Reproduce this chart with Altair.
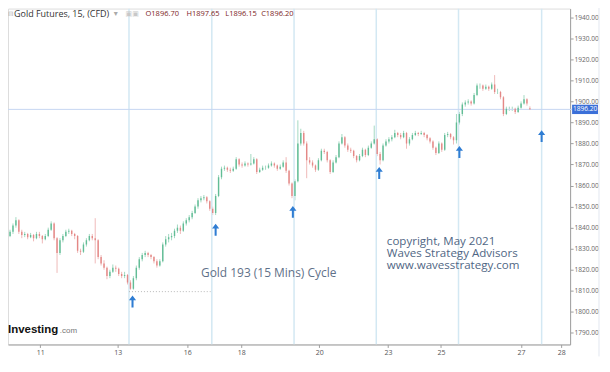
import json
import altair as alt
import pandas as pd

# ---------------- data ----------------
candle_open = [
    1835.0,1836.0,1838.0,1841.0,1843.5,1838.0,1836.5,1837.0,1835.5,1836.5,
    1835.0,1837.0,1836.0,1834.5,1836.0,1839.0,1842.0,1835.0,1828.0,1834.0,
    1836.0,1838.0,1838.5,1837.0,1836.0,1829.0,1828.5,1832.0,1834.0,1836.0,
    1835.0,1834.0,1826.0,1823.0,1821.0,1817.0,1819.0,1821.0,1820.5,1818.0,
    1817.0,1817.5,1814.0,1811.0,1816.0,1821.0,1825.0,1827.0,1828.0,1827.0,
    1826.0,1824.0,1822.0,1824.0,1832.0,1834.5,1835.5,1836.0,1838.5,1840.0,
    1838.5,1842.0,1843.5,1845.0,1847.0,1850.0,1853.0,1854.0,1854.5,1852.5,
    1849.0,1847.0,1855.0,1864.0,1868.0,1868.5,1867.5,1867.0,1868.0,1872.5,
    1870.0,1869.5,1870.5,1870.0,1870.5,1872.5,1866.5,1867.5,1868.5,1868.5,
    1869.5,1870.5,1869.5,1868.0,1869.0,1871.0,1867.0,1861.0,1855.0,1862.0,
    1880.0,1885.0,1880.0,1872.0,1871.0,1869.5,1867.5,1872.0,1876.5,1876.0,
    1872.0,1866.5,1871.0,1873.5,1880.0,1883.0,1879.0,1877.0,1876.5,1874.0,
    1872.0,1874.0,1877.0,1874.5,1878.0,1880.0,1882.0,1875.0,1872.0,1879.0,
    1881.0,1882.0,1883.0,1885.0,1884.0,1883.0,1885.0,1880.0,1882.0,1884.0,
    1885.0,1884.5,1885.0,1884.0,1882.5,1881.0,1878.0,1875.5,1880.0,1877.0,
    1884.0,1884.5,1883.0,1881.5,1890.0,1894.0,1898.5,1899.5,1900.0,1899.0,
    1903.0,1907.5,1907.5,1906.0,1907.0,1906.0,1908.0,1904.5,1904.5,1902.0,
    1894.0,1896.5,1896.5,1896.5,1895.0,1897.0,1899.0,1901.0,1896.7,
]
candle_high = [
    1837.5,1839.0,1842.0,1845.0,1844.0,1839.0,1838.0,1837.5,1837.5,1837.0,
    1838.0,1838.0,1836.5,1837.0,1840.0,1843.0,1842.5,1835.5,1835.0,1837.0,
    1839.0,1839.5,1839.0,1837.5,1836.5,1830.0,1833.0,1835.0,1837.0,1837.0,
    1844.5,1834.5,1827.0,1824.5,1821.5,1820.0,1822.5,1822.0,1821.0,1819.0,
    1819.0,1818.0,1815.0,1817.0,1822.0,1826.0,1828.0,1829.0,1828.5,1827.5,
    1826.5,1825.0,1825.0,1833.0,1836.0,1837.0,1837.5,1839.5,1841.5,1841.0,
    1843.0,1844.5,1846.0,1848.0,1851.0,1854.0,1855.0,1855.5,1855.0,1853.0,
    1850.0,1856.0,1865.0,1869.0,1869.5,1869.0,1868.5,1869.0,1873.5,1873.0,
    1871.0,1871.5,1871.0,1875.0,1873.5,1873.0,1868.5,1869.5,1869.5,1870.5,
    1871.5,1871.0,1870.0,1870.0,1872.0,1873.5,1867.5,1861.5,1863.0,1891.0,
    1887.0,1886.0,1881.0,1873.5,1872.0,1870.0,1873.0,1877.5,1877.5,1876.5,
    1872.5,1872.0,1874.5,1881.0,1884.5,1883.5,1880.0,1878.0,1877.0,1874.5,
    1875.0,1878.0,1877.5,1879.0,1881.0,1888.5,1882.5,1876.0,1880.0,1882.0,
    1883.0,1884.0,1886.5,1885.5,1885.0,1886.0,1885.5,1883.0,1885.0,1886.0,
    1885.5,1886.0,1885.5,1884.5,1883.0,1881.5,1878.5,1881.0,1880.5,1885.0,
    1885.5,1885.0,1883.5,1894.0,1895.0,1899.5,1900.5,1901.0,1900.5,1904.0,
    1908.5,1908.5,1908.0,1908.0,1907.5,1909.0,1912.5,1906.0,1905.0,1902.5,
    1897.5,1897.5,1897.5,1897.0,1898.0,1900.0,1903.0,1901.5,1897.65,
]
candle_low = [
    1834.0,1835.5,1837.0,1840.0,1837.0,1835.0,1835.5,1834.5,1835.0,1833.5,
    1834.5,1835.0,1832.5,1834.0,1835.5,1838.5,1834.0,1818.5,1827.0,1833.0,
    1835.5,1837.0,1836.0,1834.5,1828.0,1827.0,1828.0,1831.0,1833.5,1834.0,
    1823.0,1825.0,1822.0,1820.0,1815.5,1816.0,1818.5,1819.0,1817.0,1816.0,
    1816.0,1813.0,1810.5,1810.5,1815.0,1820.0,1824.0,1826.0,1826.0,1825.0,
    1823.0,1821.0,1821.5,1823.5,1831.0,1833.0,1834.0,1835.0,1837.5,1837.0,
    1838.0,1841.0,1842.5,1844.0,1846.5,1849.0,1852.0,1853.0,1851.5,1848.0,
    1846.0,1846.0,1854.5,1863.0,1867.0,1866.5,1866.0,1866.5,1867.5,1869.0,
    1868.5,1869.0,1869.0,1869.5,1870.0,1865.5,1866.0,1867.0,1867.5,1868.0,
    1869.0,1868.5,1867.0,1867.5,1868.5,1866.0,1860.0,1854.0,1853.0,1861.5,
    1879.0,1879.0,1863.5,1870.0,1868.5,1866.5,1867.0,1871.5,1875.0,1871.0,
    1865.5,1866.0,1870.5,1873.0,1879.5,1878.0,1876.0,1875.5,1873.0,1871.0,
    1871.5,1873.5,1873.5,1874.0,1877.5,1879.5,1874.0,1870.0,1871.5,1878.5,
    1880.0,1881.0,1882.5,1883.0,1882.0,1882.5,1877.5,1879.0,1881.5,1883.5,
    1883.5,1884.0,1883.0,1881.5,1880.0,1877.0,1874.5,1875.0,1876.0,1876.5,
    1883.0,1882.0,1879.5,1880.0,1889.0,1893.0,1897.5,1898.5,1898.0,1898.5,
    1902.5,1906.0,1905.0,1905.5,1905.0,1905.5,1903.5,1903.5,1901.0,1893.0,
    1893.5,1895.5,1895.5,1894.0,1894.5,1896.5,1898.5,1898.0,1896.15,
]
candle_close = [
    1836.0,1838.0,1841.0,1843.5,1838.0,1836.5,1837.0,1835.5,1836.5,1835.0,
    1837.0,1836.0,1834.5,1836.0,1839.0,1842.0,1835.0,1828.0,1834.0,1836.0,
    1838.0,1838.5,1837.0,1836.0,1829.0,1828.5,1832.0,1834.0,1836.0,1835.0,
    1834.0,1826.0,1823.0,1821.0,1817.0,1819.0,1821.0,1820.5,1818.0,1817.0,
    1817.5,1814.0,1811.0,1816.0,1821.0,1825.0,1827.0,1828.0,1827.0,1826.0,
    1824.0,1822.0,1824.0,1832.0,1834.5,1835.5,1836.0,1838.5,1840.0,1838.5,
    1842.0,1843.5,1845.0,1847.0,1850.0,1853.0,1854.0,1854.5,1852.5,1849.0,
    1847.0,1855.0,1864.0,1868.0,1868.5,1867.5,1867.0,1868.0,1872.5,1870.0,
    1869.5,1870.5,1870.0,1870.5,1872.5,1866.5,1867.5,1868.5,1868.5,1869.5,
    1870.5,1869.5,1868.0,1869.0,1871.0,1867.0,1861.0,1855.0,1862.0,1880.0,
    1885.0,1880.0,1872.0,1871.0,1869.5,1867.5,1872.0,1876.5,1876.0,1872.0,
    1866.5,1871.0,1873.5,1880.0,1883.0,1879.0,1877.0,1876.5,1874.0,1872.0,
    1874.0,1877.0,1874.5,1878.0,1880.0,1882.0,1875.0,1872.0,1879.0,1881.0,
    1882.0,1883.0,1885.0,1884.0,1883.0,1885.0,1880.0,1882.0,1884.0,1885.0,
    1884.5,1885.0,1884.0,1882.5,1881.0,1878.0,1875.5,1880.0,1877.0,1884.0,
    1884.5,1883.0,1881.5,1890.0,1894.0,1898.5,1899.5,1900.0,1899.0,1903.0,
    1907.5,1907.5,1906.0,1907.0,1906.0,1908.0,1904.5,1904.5,1902.0,1894.0,
    1896.5,1896.5,1896.5,1895.0,1897.0,1899.0,1901.0,1899.0,1896.2,
]

# day labels on the time axis (candle position where each label sits)
day_pos = [11.3, 37.7, 61.3, 79.7, 106.3, 129.7, 147.7, 175.0, 188.7]
day_labels = ["11", "13", "16", "18", "20", "23", "25", "27", "28"]

price_ticks = [1790, 1800, 1810, 1820, 1830, 1840, 1850, 1860, 1870, 1880,
               1890, 1900, 1910, 1920, 1930, 1940]

# cycle lines and arrows
cycle_pos = [41.5, 69.7, 97.7, 125.7, 153.7, 182.0]
arrow_pos = [42.7, 71.0, 97.3, 126.7, 154.0, 182.0]
arrow_price = [1804.9, 1839.0, 1847.5, 1866.0, 1876.0, 1883.5]

last_price = 1896.2
cycle_low = 1809.6
cycle_low_span = [41.5, 69.3]

header_items = ["O1896.70", "H1897.65", "L1896.15", "C1896.20"]
header_x = [138, 179, 218, 254]

note_main = "Gold 193 (15 Mins) Cycle"
note_lines = ["copyright, May 2021", "Waves Strategy Advisors", "www.wavesstrategy.com"]
note_top_price = 1836.0

# ---------------- chart ----------------
W, H = 564, 337
FONT = "Open Sans"
n = len(candle_close)
df = pd.DataFrame({"i": list(range(n)), "o": candle_open, "h": candle_high,
                   "l": candle_low, "c": candle_close})
df["dir"] = ["up" if c >= o else "down" for o, c in zip(df.o, df.c)]

xs = alt.Scale(domain=[2, 190], nice=False, zero=False)
ys = alt.Scale(domain=[1784.5, 1944.1], nice=False, zero=False)
col = alt.Color("dir:N", scale=alt.Scale(domain=["up", "down"],
                                          range=["#62bd96", "#e48886"]), legend=None)

label_expr = "{}[indexof({}, datum.value)]".format(json.dumps(day_labels), json.dumps(day_pos))
x_axis = alt.Axis(values=day_pos, labelExpr=label_expr, grid=False, title=None,
                  domainColor="#a0a0a0", tickColor="#a0a0a0", tickSize=3,
                  labelFontSize=7, labelColor="#555555", labelFont=FONT,
                  labelPadding=1, labelOverlap=False, labelFlush=False)
y_axis = alt.Axis(values=price_ticks, format=".2f", orient="right", grid=False, title=None,
                  domainColor="#a0a0a0", tickColor="#a0a0a0", tickSize=3,
                  labelFontSize=6.6, labelColor="#666666", labelFont=FONT,
                  labelPadding=1, labelOverlap=False, labelFlush=False)


def X(field):
    return alt.X(field, scale=xs, axis=None)


def Y(field):
    return alt.Y(field, scale=ys, axis=None)


wicks = alt.Chart(df).mark_rule(strokeWidth=0.9, clip=True, opacity=0.65).encode(
    x=alt.X("i:Q", scale=xs, axis=x_axis),
    y=alt.Y("l:Q", scale=ys, axis=y_axis), y2="h:Q", color=col)
bodies = alt.Chart(df).mark_bar(width=1.4, clip=True).encode(
    x=X("i:Q"), y=Y("o:Q"), y2="c:Q", color=col)

cyc = alt.Chart(pd.DataFrame({"x": cycle_pos})).mark_rule(
    color="#d3e8f3", strokeWidth=1.5, clip=True).encode(x=X("x:Q"))

hline = alt.Chart(pd.DataFrame({"p": [last_price]})).mark_rule(
    color="#c6d6f2", strokeWidth=1).encode(
    y=Y("p:Q"), x=alt.value(0), x2=alt.value(W + 2))

dotted = alt.Chart(pd.DataFrame({"x": [cycle_low_span[0]], "x2": [cycle_low_span[1]],
                                 "p": [cycle_low]})).mark_rule(
    color="#b8b8b8", strokeWidth=1, strokeDash=[1, 2]).encode(
    x=X("x:Q"), x2="x2:Q", y=Y("p:Q"))

arrow_shape = "M0,-1L0.6,-0.2L0.17,-0.2L0.17,1L-0.17,1L-0.17,-0.2L-0.6,-0.2Z"
arrows = alt.Chart(pd.DataFrame({"x": arrow_pos, "p": arrow_price})).mark_point(
    shape=arrow_shape, filled=True, size=144, color="#2f7dd3", opacity=1).encode(
    x=X("x:Q"), y=Y("p:Q"))

box_shape = "M-1,-0.36L1,-0.36L1,0.36L-1,0.36Z"
pbox = alt.Chart(pd.DataFrame({"p": [last_price]})).mark_point(
    shape=box_shape, filled=True, size=676, color="#3b6fd8", opacity=1).encode(
    x=alt.value(W + 15), y=Y("p:Q"))
ptext = alt.Chart(pd.DataFrame({"p": [last_price], "t": ["1896.20"]})).mark_text(
    fontSize=6.6, font=FONT, color="white", align="center", baseline="middle").encode(
    x=alt.value(W + 15), y=Y("p:Q"), text="t:N")

sep = alt.Chart(pd.DataFrame({"a": [0]})).mark_rule(color="#e2e7f0", strokeWidth=1).encode(
    x=alt.value(W + 29), y=alt.value(-8), y2=alt.value(H + 12))


def label(text, x, y, size, color, font=FONT, weight="normal"):
    return alt.Chart(pd.DataFrame({"t": [text]})).mark_text(
        fontSize=size, font=font, fontWeight=weight, color=color,
        align="left", baseline="middle").encode(
        x=alt.value(x), y=alt.value(y), text="t:N")


heads = [
    label("\u229f", 0, 5, 6.5, "#aaaaaa", font="DejaVu Sans"),
    label("Gold Futures, 15, (CFD)", 6, 5, 9, "#333333"),
    label("\u25be", 106, 5, 8, "#aaaaaa", font="DejaVu Sans"),
    label("\u25a3\u25a3", 118, 5, 7, "#c8c8c8", font="DejaVu Sans"),
]
for t, x in zip(header_items, header_x):
    heads.append(label(t, x, 5, 7.5, "#7c2424"))

note1 = alt.Chart(pd.DataFrame({"t": [note_main], "x": [66.0], "p": [1818.6]})).mark_text(
    fontSize=12, font=FONT, color="#5f7189", align="left", baseline="middle").encode(
    x=X("x:Q"), y=Y("p:Q"), text="t:N")
note2 = alt.Chart(pd.DataFrame({"t": ["\n".join(note_lines)], "x": [129.3],
                                "p": [note_top_price]})).mark_text(
    fontSize=11.6, font=FONT, color="#4f6684", align="left", baseline="top",
    lineBreak="\n", lineHeight=11.8).encode(
    x=X("x:Q"), y=Y("p:Q"), text="t:N")

logo1 = label("Investing", 0, H - 14, 11.5, "#111111", font="Liberation Sans", weight="bold")
logo2 = label(".com", 52, H - 13, 8, "#777777", font="Liberation Sans")

chart = alt.layer(
    wicks, cyc, hline, dotted, bodies, arrows, pbox, ptext, sep,
    *heads, note1, note2, logo1, logo2
).resolve_axis(x="independent", y="independent").properties(
    width=W, height=H,
    autosize=alt.AutoSizeParams(type="none"),
    padding={"left": 0, "top": 0, "right": 32, "bottom": 13},
).configure_view(stroke=None).configure(background="white")

chart.save("out.html", embed_options={"renderer": "svg", "actions": False})
